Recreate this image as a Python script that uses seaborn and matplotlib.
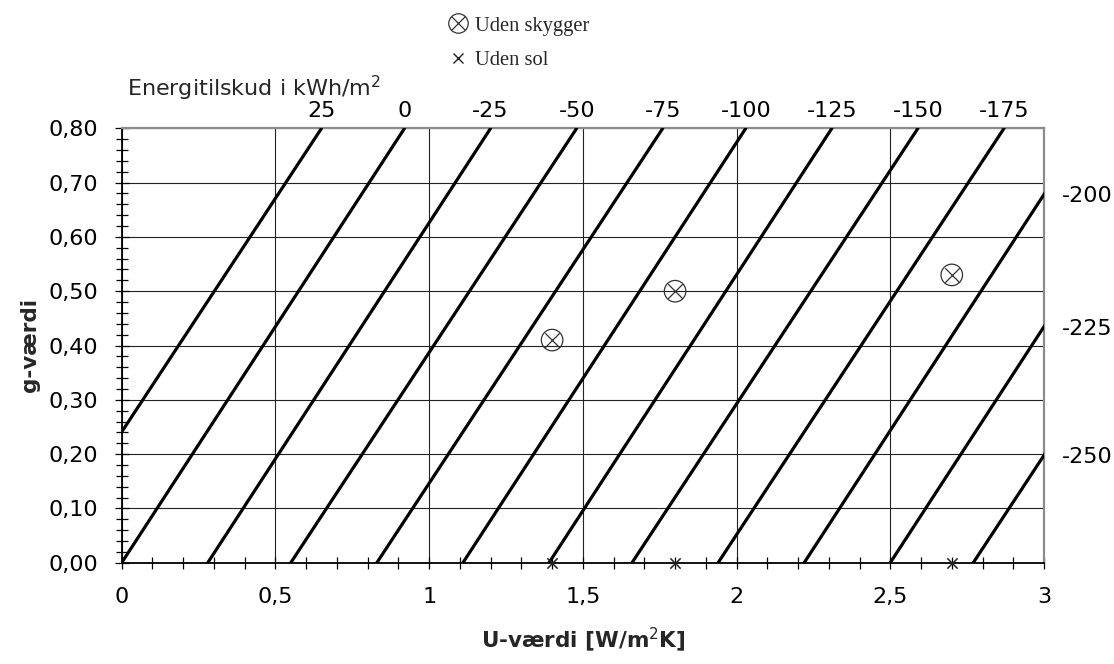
import numpy as np
import pandas as pd
import matplotlib
matplotlib.use("Agg")
import matplotlib.pyplot as plt
import seaborn as sns
from matplotlib.lines import Line2D
from matplotlib.legend_handler import HandlerTuple
from matplotlib.ticker import MultipleLocator, FixedLocator

# ---------------- data ----------------
energy_levels = [25, 0, -25, -50, -75, -100, -125, -150, -175, -200, -225, -250]
u_at_g0 = [-0.28, 0.00, 0.28, 0.55, 0.83, 1.11, 1.39, 1.66, 1.94, 2.22, 2.50, 2.77]
u_at_g080 = [0.65, 0.92, 1.20, 1.48, 1.76, 2.03, 2.31, 2.59, 2.87, 3.14, 3.42, 3.70]
g_low = 0.0
g_high = 0.80

shaded_u = [1.4, 1.8, 2.7]
shaded_g = [0.41, 0.50, 0.53]
nosun_u = [1.4, 1.8, 2.7]
nosun_g = [0.0, 0.0, 0.0]

legend_labels = ["Uden skygger", "Uden sol"]
x_label = "U-værdi [W/m$^2$K]"
y_label = "g-værdi"
top_title = "Energitilskud i kWh/m$^2$"
x_tick_values = [0, 0.5, 1, 1.5, 2, 2.5, 3]
x_tick_labels = ["0", "0,5", "1", "1,5", "2", "2,5", "3"]
y_tick_values = [0.0, 0.1, 0.2, 0.3, 0.4, 0.5, 0.6, 0.7, 0.8]
y_tick_labels = ["0,00", "0,10", "0,20", "0,30", "0,40", "0,50", "0,60", "0,70", "0,80"]

# ---------------- style ----------------
sns.set_theme(style="white")
plt.rcParams["font.family"] = ["DejaVu Sans"]
plt.rcParams["mathtext.fontset"] = "dejavusans"

FS = 16
W, H = 1114, 664
fig = plt.figure(figsize=(W / 100, H / 100), dpi=100)
fig.patch.set_facecolor("white")
left_px, right_px, top_px, bottom_px = 121.7, 1044.0, 128.3, 562.7
ax = fig.add_axes([left_px / W, 1 - bottom_px / H,
                   (right_px - left_px) / W, (bottom_px - top_px) / H])
ax.set_facecolor("white")

xmin, xmax = 0.0, 3.0
ymin, ymax = g_low, g_high

# iso-energy lines
rows = []
for e, u0, u1 in zip(energy_levels, u_at_g0, u_at_g080):
    rows.append({"E": e, "U": u0, "g": g_low})
    rows.append({"E": e, "U": u1, "g": g_high})
df_lines = pd.DataFrame(rows)
sns.lineplot(data=df_lines, x="U", y="g", units="E", estimator=None, sort=False,
             color="black", lw=2.3, legend=False, ax=ax, zorder=3)

# points: without shading (circle with cross)
df_sh = pd.DataFrame({"U": shaded_u, "g": shaded_g})
sns.scatterplot(data=df_sh, x="U", y="g", marker="o", s=240, facecolor="none",
                edgecolor="#333333", linewidth=0.9, ax=ax, zorder=4, clip_on=False)
sns.scatterplot(data=df_sh, x="U", y="g", marker="x", s=110, color="#333333",
                linewidth=0.9, ax=ax, zorder=4, clip_on=False)
# points: without sun
df_ns = pd.DataFrame({"U": nosun_u, "g": nosun_g})
sns.scatterplot(data=df_ns, x="U", y="g", marker="x", s=55, color="#222222",
                linewidth=1.1, ax=ax, zorder=5, clip_on=False)

ax.set_xlim(xmin, xmax)
ax.set_ylim(ymin, ymax)

# ticks
ax.xaxis.set_major_locator(FixedLocator(x_tick_values))
ax.set_xticklabels(x_tick_labels)
ax.xaxis.set_minor_locator(MultipleLocator(0.1))
ax.yaxis.set_major_locator(FixedLocator(y_tick_values))
ax.set_yticklabels(y_tick_labels)
ax.yaxis.set_minor_locator(MultipleLocator(0.02))
ax.tick_params(axis="both", which="both", bottom=True, left=True, top=False, right=False,
               direction="inout", color="black", width=0.9, labelcolor="black")
ax.tick_params(axis="y", which="major", length=9.5, pad=12, labelsize=FS)
ax.tick_params(axis="y", which="minor", length=8)
ax.tick_params(axis="x", which="major", length=9, pad=13, labelsize=FS)
ax.tick_params(axis="x", which="minor", length=9)

ax.set_axisbelow(True)
ax.grid(True, which="major", color="#222222", linewidth=0.8)

for s in ["left", "bottom"]:
    ax.spines[s].set_color("black")
    ax.spines[s].set_linewidth(1.3)
    ax.spines[s].set_visible(True)
for s in ["top", "right"]:
    ax.spines[s].set_color("#8c8c8c")
    ax.spines[s].set_linewidth(1.6)
    ax.spines[s].set_visible(True)

ax.set_xlabel(x_label, fontsize=15.5, fontweight="bold", va="center")
ax.xaxis.set_label_coords(0.5, (1 - 640 / H - (1 - bottom_px / H)) / ((bottom_px - top_px) / H))
ax.set_ylabel(y_label, fontsize=15.5, fontweight="bold", va="center")
ax.yaxis.set_label_coords((30 - left_px) / (right_px - left_px), 0.5)

# top axis: energy labels where lines cross g = 0.80
top_pos, top_lab = [], []
for e, u1 in zip(energy_levels, u_at_g080):
    if xmin <= u1 <= xmax:
        top_pos.append(u1)
        top_lab.append(f"{e}")
ax_top = ax.twiny()
ax_top.set_xlim(xmin, xmax)
ax_top.xaxis.set_major_locator(FixedLocator(top_pos))
ax_top.set_xticklabels(top_lab)
ax_top.xaxis.set_minor_locator(FixedLocator([]))
ax_top.tick_params(axis="x", which="both", top=True, bottom=False, length=0, pad=5,
                   labelsize=FS, labelcolor="black")
for s in ax_top.spines.values():
    s.set_visible(False)

# right axis: energy labels where lines cross U = 3
right_pos, right_lab = [], []
for e, u0, u1 in zip(energy_levels, u_at_g0, u_at_g080):
    if u0 <= xmax <= u1:
        gcross = g_low + (g_high - g_low) * (xmax - u0) / (u1 - u0)
        if g_low <= gcross <= g_high:
            right_pos.append(gcross)
            right_lab.append(f"{e}")
ax_r = ax.twinx()
ax_r.set_ylim(ymin, ymax)
ax_r.yaxis.set_major_locator(FixedLocator(right_pos))
ax_r.set_yticklabels(right_lab)
ax_r.yaxis.set_minor_locator(FixedLocator([]))
ax_r.tick_params(axis="y", which="both", right=True, left=False, length=0, pad=13,
                 labelsize=FS, labelcolor="black")
for s in ax_r.spines.values():
    s.set_visible(False)

fig.text(127 / W, 1 - 88 / H, top_title, fontsize=FS, ha="left", va="center")

# legend
h1 = (Line2D([], [], ls="none", marker="o", ms=14, mfc="none", mec="#333333", mew=0.9),
      Line2D([], [], ls="none", marker="x", ms=9.5, color="#333333", mew=0.9))
h2 = Line2D([], [], ls="none", marker="x", ms=7.5, color="#222222", mew=1.0)
leg = fig.legend([h1, h2], legend_labels, loc="upper left",
                 bbox_to_anchor=(437 / W, 1 - 6 / H), frameon=False,
                 handler_map={tuple: HandlerTuple(ndivide=1, pad=0)},
                 prop={"family": "Liberation Serif", "size": 14.8},
                 handlelength=1.0, handletextpad=0.35, labelspacing=0.72, borderpad=0)

fig.savefig("out.png", dpi=100, facecolor="white")
